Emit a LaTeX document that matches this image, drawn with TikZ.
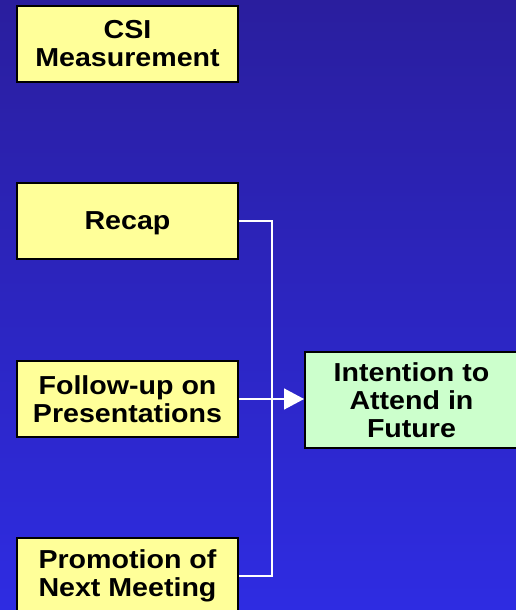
\documentclass[tikz,border=0pt]{standalone}
\usepackage{fontspec}
\setmainfont{Liberation Sans}[FakeStretch=1.1]
\usepackage{xcolor}
\usetikzlibrary{arrows.meta}

\definecolor{bgtop}{RGB}{42,30,158}
\definecolor{bgbottom}{RGB}{46,44,226}
\definecolor{boxyellow}{RGB}{255,255,153}
\definecolor{boxgreen}{RGB}{204,255,204}

\begin{document}
\begin{tikzpicture}[x=1pt, y=-1pt,
    factor/.style={draw=black, line width=2pt, rectangle, fill=boxyellow,
        minimum width=221pt, minimum height=76pt, align=center,
        font=\fontsize{26}{28}\selectfont\bfseries, inner sep=0pt},
    outcome/.style={factor, fill=boxgreen, minimum width=213pt, minimum height=96pt},
    wire/.style={draw=white, line width=1.5pt}]
            % Background
            \fill[top color=bgtop, bottom color=bgbottom] (0,0) rectangle (516,610);
            \useasboundingbox (0,0) rectangle (516,610);

            % Left column - drivers
            \node[factor] (csi) at (127.5,44) {CSI\\Measurement};
            \node[factor, text depth=0pt] (recap) at (127.5,221) {Recap};
            \node[factor] (follow) at (127.5,399) {Follow-up on\\Presentations};
            \node[factor] (promo) at (127.5,576) {Promotion of\\Next Meeting};

            % Right side - outcome
            \node[outcome] (intent) at (411.5,400) {Intention to\\Attend in\\Future};

            % Connections
            \coordinate (bus) at (272,221);
            \draw[wire] (recap.east) -- (bus) |- (promo.east);
            \draw[wire, -{Triangle[length=20pt, width=21pt]}] (follow.east) -- (follow.east -| intent.west);
        \end{tikzpicture}
\end{document}
